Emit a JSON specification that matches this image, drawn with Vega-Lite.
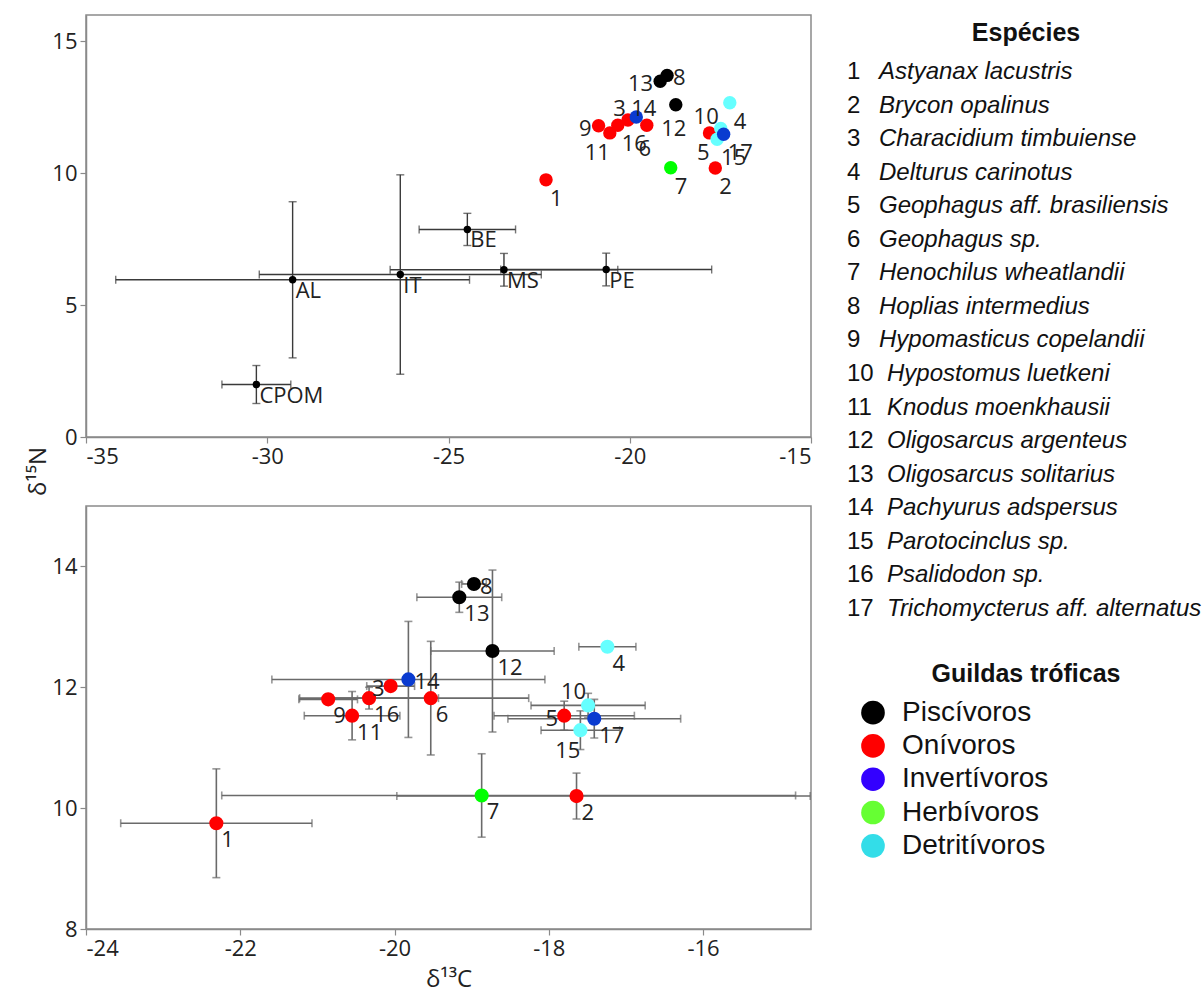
{
  "$schema": "https://vega.github.io/schema/vega-lite/v6.json",
  "background": "white",
  "padding": {"left": 25, "top": 14, "right": 0, "bottom": 0},
  "datasets": {
    "species": [
      {"id": 1, "name": "Astyanax lacustris", "guild": "Onívoros", "x": -22.31, "xlo": -23.55, "xhi": -21.07, "y": 9.75, "ysd": 0.9},
      {"id": 2, "name": "Brycon opalinus", "guild": "Onívoros", "x": -17.64, "xlo": -19.97, "xhi": -14.61, "y": 10.2, "ysd": 0.38},
      {"id": 3, "name": "Characidium timbuiense", "guild": "Onívoros", "x": -20.05, "xlo": -20.36, "xhi": -19.74, "y": 12.02, "ysd": 0.06},
      {"id": 4, "name": "Delturus carinotus", "guild": "Detritívoros", "x": -17.24, "xlo": -17.61, "xhi": -16.87, "y": 12.67, "ysd": 0.06},
      {"id": 5, "name": "Geophagus aff. brasiliensis", "guild": "Onívoros", "x": -17.8, "xlo": -18.71, "xhi": -16.89, "y": 11.53, "ysd": 0.24},
      {"id": 6, "name": "Geophagus sp.", "guild": "Onívoros", "x": -19.53, "xlo": -20.8, "xhi": -18.26, "y": 11.82, "ysd": 0.94},
      {"id": 7, "name": "Henochilus wheatlandii", "guild": "Herbívoros", "x": -18.87, "xlo": -22.24, "xhi": -14.8, "y": 10.21, "ysd": 0.69},
      {"id": 8, "name": "Hoplias intermedius", "guild": "Piscívoros", "x": -18.97, "xlo": -19.13, "xhi": -18.81, "y": 13.71, "ysd": 0.06},
      {"id": 9, "name": "Hypomasticus copelandii", "guild": "Onívoros", "x": -20.86, "xlo": -21.24, "xhi": -20.48, "y": 11.8, "ysd": 0.08},
      {"id": 10, "name": "Hypostomus luetkeni", "guild": "Detritívoros", "x": -17.49, "xlo": -18.23, "xhi": -16.75, "y": 11.7, "ysd": 0.2},
      {"id": 11, "name": "Knodus moenkhausii", "guild": "Onívoros", "x": -20.55, "xlo": -21.17, "xhi": -19.93, "y": 11.53, "ysd": 0.4},
      {"id": 12, "name": "Oligosarcus argenteus", "guild": "Piscívoros", "x": -18.73, "xlo": -19.53, "xhi": -17.93, "y": 12.6, "ysd": 1.34},
      {"id": 13, "name": "Oligosarcus solitarius", "guild": "Piscívoros", "x": -19.16, "xlo": -19.71, "xhi": -18.61, "y": 13.49, "ysd": 0.25},
      {"id": 14, "name": "Pachyurus adspersus", "guild": "Invertívoros", "x": -19.82, "xlo": -21.59, "xhi": -18.05, "y": 12.13, "ysd": 0.96},
      {"id": 15, "name": "Parotocinclus sp.", "guild": "Detritívoros", "x": -17.59, "xlo": -18.1, "xhi": -17.08, "y": 11.29, "ysd": 0.32},
      {"id": 16, "name": "Psalidodon sp.", "guild": "Onívoros", "x": -20.33, "xlo": -21.23, "xhi": -19.43, "y": 11.82, "ysd": 0.18},
      {"id": 17, "name": "Trichomycterus aff. alternatus", "guild": "Invertívoros", "x": -17.41, "xlo": -18.53, "xhi": -16.29, "y": 11.48, "ysd": 0.32}
    ],
    "sources": [
      {"src": "AL", "x": -29.3, "xsd": 4.88, "y": 5.96, "ysd": 2.96},
      {"src": "IT", "x": -26.33, "xsd": 3.89, "y": 6.16, "ysd": 3.78},
      {"src": "BE", "x": -24.48, "xsd": 1.33, "y": 7.87, "ysd": 0.61},
      {"src": "MS", "x": -23.47, "xsd": 3.14, "y": 6.34, "ysd": 0.62},
      {"src": "PE", "x": -20.65, "xsd": 2.91, "y": 6.35, "ysd": 0.62},
      {"src": "CPOM", "x": -30.3, "xsd": 0.95, "y": 1.99, "ysd": 0.72}
    ],
    "guilds": [
      {"order": 1, "guild": "Piscívoros"},
      {"order": 2, "guild": "Onívoros"},
      {"order": 3, "guild": "Invertívoros"},
      {"order": 4, "guild": "Herbívoros"},
      {"order": 5, "guild": "Detritívoros"}
    ]
  },
  "config": {
    "view": {"stroke": "#8a8a8a", "strokeWidth": 1.5},
    "axis": {
      "grid": false,
      "domainColor": "#8a8a8a",
      "domainWidth": 1.5,
      "tickColor": "#8a8a8a",
      "tickWidth": 1.2,
      "tickSize": 6,
      "labelFont": "Open Sans",
      "labelFontSize": 22,
      "labelColor": "#222222",
      "labelPadding": 3,
      "labelExpr": "toString(datum.value)",
      "titleFont": "Open Sans",
      "titleFontSize": 24,
      "titleFontWeight": "normal",
      "titleColor": "#222222"
    },
    "text": {"font": "Open Sans", "fontSize": 22, "color": "#222222"}
  },
  "resolve": {"scale": {"color": "independent", "x": "independent", "y": "independent"}},
  "spacing": 34,
  "hconcat": [
    {
      "bounds": "flush",
      "spacing": 69,
      "vconcat": [
        {
          "width": 725,
          "height": 422,
          "encoding": {
            "x": {"field": "x", "type": "quantitative", "scale": {"domain": [-35, -15], "nice": false, "zero": false},
                  "axis": {"values": [-35, -30, -25, -20, -15], "title": null}},
            "y": {"field": "y", "type": "quantitative", "scale": {"domain": [0, 16], "nice": false, "zero": false},
                  "axis": {"values": [0, 5, 10, 15], "title": "δ¹⁵N", "titleX": -48, "titleY": 456, "titleAngle": -90, "titleAlign": "center", "titleBaseline": "middle"}}
          },
          "layer": [
            {"data": {"name": "sources"}, "mark": {"type": "errorbar", "ticks": {"size": 8}, "color": "#3a3a3a", "thickness": 1.4},
             "encoding": {"xError": {"field": "xsd"}}},
            {"data": {"name": "sources"}, "mark": {"type": "errorbar", "ticks": {"size": 8}, "color": "#3a3a3a", "thickness": 1.4},
             "encoding": {"yError": {"field": "ysd"}}},
            {"data": {"name": "sources"}, "mark": {"type": "circle", "size": 55, "opacity": 1, "color": "black"}},
            {"data": {"name": "sources"}, "mark": {"type": "text", "align": "left", "baseline": "top", "dx": 3, "dy": 1},
             "encoding": {"text": {"field": "src"}}},
            {"data": {"name": "species"}, "mark": {"type": "circle", "size": 180, "opacity": 1},
             "encoding": {"color": {"field": "guild", "type": "nominal", "legend": null,
               "scale": {"domain": ["Piscívoros", "Onívoros", "Invertívoros", "Herbívoros", "Detritívoros"], "range": ["#000000", "#ff0000", "#0a3bd0", "#00ff00", "#66ffff"]}}}},
            {"data": {"name": "species"}, "transform": [{"filter": {"field": "id", "oneOf": [4, 15, 17, 7, 2, 1, 16]}}],
             "mark": {"type": "text", "align": "left", "baseline": "alphabetic", "dx": 4, "dy": 26},
             "encoding": {"text": {"field": "id"}}},
            {"data": {"name": "species"}, "transform": [{"filter": {"field": "id", "oneOf": [11, 5]}}],
             "mark": {"type": "text", "align": "right", "baseline": "alphabetic", "dx": 0, "dy": 27},
             "encoding": {"text": {"field": "id"}}},
            {"data": {"name": "species"}, "transform": [{"filter": {"field": "id", "oneOf": [12, 6]}}],
             "mark": {"type": "text", "align": "center", "baseline": "alphabetic", "dx": -2, "dy": 31},
             "encoding": {"text": {"field": "id"}}},
            {"data": {"name": "species"}, "transform": [{"filter": {"field": "id", "oneOf": [13, 9]}}],
             "mark": {"type": "text", "align": "right", "baseline": "alphabetic", "dx": -7, "dy": 10},
             "encoding": {"text": {"field": "id"}}},
            {"data": {"name": "species"}, "transform": [{"filter": {"field": "id", "oneOf": [8]}}],
             "mark": {"type": "text", "align": "left", "baseline": "alphabetic", "dx": 6, "dy": 10},
             "encoding": {"text": {"field": "id"}}},
            {"data": {"name": "species"}, "transform": [{"filter": {"field": "id", "oneOf": [3, 10]}}],
             "mark": {"type": "text", "align": "right", "baseline": "alphabetic", "dx": -2, "dy": -4},
             "encoding": {"text": {"field": "id"}}},
            {"data": {"name": "species"}, "transform": [{"filter": {"field": "id", "oneOf": [14]}}],
             "mark": {"type": "text", "align": "left", "baseline": "alphabetic", "dx": -5, "dy": -1},
             "encoding": {"text": {"field": "id"}}},
            {"data": {"values": [{"lab": "a)"}]}, "mark": {"type": "text", "align": "right", "baseline": "middle", "fontSize": 30},
             "encoding": {"x": {"datum": -15.5}, "y": {"datum": 14.8}, "text": {"field": "lab"}}}
          ]
        },
        {
          "width": 725,
          "height": 423,
          "encoding": {
            "x": {"field": "x", "type": "quantitative", "scale": {"domain": [-24, -14.6], "nice": false, "zero": false},
                  "axis": {"values": [-24, -22, -20, -18, -16], "title": "δ¹³C", "titlePadding": 8}},
            "y": {"field": "y", "type": "quantitative", "scale": {"domain": [8, 15], "nice": false, "zero": false},
                  "axis": {"values": [8, 10, 12, 14], "title": null}}
          },
          "layer": [
            {"data": {"name": "species"}, "mark": {"type": "errorbar", "ticks": {"size": 8}, "color": "#6a6a6a", "thickness": 1.6, "clip": true},
             "encoding": {"x": {"field": "xlo", "type": "quantitative"}, "x2": {"field": "xhi"}}},
            {"data": {"name": "species"}, "mark": {"type": "errorbar", "ticks": {"size": 8}, "color": "#6a6a6a", "thickness": 1.6, "clip": true},
             "encoding": {"yError": {"field": "ysd"}}},
            {"data": {"name": "species"}, "mark": {"type": "circle", "size": 200, "opacity": 1},
             "encoding": {"color": {"field": "guild", "type": "nominal", "legend": null,
               "scale": {"domain": ["Piscívoros", "Onívoros", "Invertívoros", "Herbívoros", "Detritívoros"], "range": ["#000000", "#ff0000", "#0a3bd0", "#00ff00", "#66ffff"]}}}},
            {"data": {"name": "species"}, "transform": [{"filter": {"field": "id", "oneOf": [13, 12, 16, 9, 11, 6, 4, 17, 1, 7, 2]}}],
             "mark": {"type": "text", "align": "left", "baseline": "alphabetic", "dx": 5, "dy": 24},
             "encoding": {"text": {"field": "id"}}},
            {"data": {"name": "species"}, "transform": [{"filter": {"field": "id", "oneOf": [8, 14]}}],
             "mark": {"type": "text", "align": "left", "baseline": "alphabetic", "dx": 6, "dy": 10},
             "encoding": {"text": {"field": "id"}}},
            {"data": {"name": "species"}, "transform": [{"filter": {"field": "id", "oneOf": [3, 5]}}],
             "mark": {"type": "text", "align": "right", "baseline": "alphabetic", "dx": -6, "dy": 10},
             "encoding": {"text": {"field": "id"}}},
            {"data": {"name": "species"}, "transform": [{"filter": {"field": "id", "oneOf": [10]}}],
             "mark": {"type": "text", "align": "right", "baseline": "alphabetic", "dx": -2, "dy": -6},
             "encoding": {"text": {"field": "id"}}},
            {"data": {"name": "species"}, "transform": [{"filter": {"field": "id", "oneOf": [15]}}],
             "mark": {"type": "text", "align": "right", "baseline": "alphabetic", "dx": 0, "dy": 28},
             "encoding": {"text": {"field": "id"}}},
            {"data": {"values": [{"lab": "b)"}]}, "mark": {"type": "text", "align": "right", "baseline": "middle", "fontSize": 30},
             "encoding": {"x": {"datum": -14.8}, "y": {"datum": 14.4}, "text": {"field": "lab"}}}
          ]
        }
      ]
    },
    {
      "width": 350,
      "height": 856,
      "view": {"stroke": null},
      "resolve": {"scale": {"y": "independent", "color": "independent"}},
      "layer": [
        {
          "data": {"name": "species"},
          "encoding": {
            "y": {"field": "id", "type": "quantitative", "axis": null, "scale": {"domain": [-0.698, 24.807], "reverse": true, "nice": false, "zero": false}}
          },
          "layer": [
            {"mark": {"type": "text", "align": "left", "baseline": "middle", "font": "Liberation Sans", "fontSize": 24, "color": "#111111"},
             "encoding": {"x": {"datum": 0, "type": "quantitative", "axis": null, "scale": {"domain": [0, 350], "nice": false, "zero": false}}, "text": {"field": "id"}}},
            {"transform": [{"filter": "datum.id < 10"}],
             "mark": {"type": "text", "align": "left", "baseline": "middle", "font": "Liberation Sans", "fontSize": 24, "fontStyle": "italic", "color": "#111111"},
             "encoding": {"x": {"datum": 32, "type": "quantitative"}, "text": {"field": "name"}}},
            {"transform": [{"filter": "datum.id >= 10"}],
             "mark": {"type": "text", "align": "left", "baseline": "middle", "font": "Liberation Sans", "fontSize": 24, "fontStyle": "italic", "color": "#111111"},
             "encoding": {"x": {"datum": 40, "type": "quantitative"}, "text": {"field": "name"}}},
            {"transform": [{"filter": "datum.id == 1"}],
             "mark": {"type": "text", "align": "center", "baseline": "middle", "font": "Liberation Sans", "fontSize": 25, "fontWeight": "bold", "color": "#111111"},
             "encoding": {"x": {"datum": 179, "type": "quantitative"}, "y": {"datum": -0.162, "type": "quantitative"}, "text": {"value": "Espécies"}}}
          ]
        },
        {
          "data": {"name": "guilds"},
          "encoding": {
            "y": {"field": "order", "type": "quantitative", "axis": null, "scale": {"domain": [-19.95, 5.756], "reverse": true, "nice": false, "zero": false}}
          },
          "layer": [
            {"mark": {"type": "circle", "size": 560, "opacity": 1},
             "encoding": {"x": {"datum": 26, "type": "quantitative"},
               "color": {"field": "guild", "type": "nominal", "legend": null,
                 "scale": {"domain": ["Piscívoros", "Onívoros", "Invertívoros", "Herbívoros", "Detritívoros"], "range": ["#000000", "#ff0000", "#3300ff", "#66ff33", "#33dde8"]}}}},
            {"mark": {"type": "text", "align": "left", "baseline": "middle", "font": "Liberation Sans", "fontSize": 28, "color": "#111111"},
             "encoding": {"x": {"datum": 55, "type": "quantitative"}, "text": {"field": "guild"}}},
            {"transform": [{"filter": "datum.order == 1"}],
             "mark": {"type": "text", "align": "center", "baseline": "middle", "font": "Liberation Sans", "fontSize": 25, "fontWeight": "bold", "color": "#111111"},
             "encoding": {"x": {"datum": 179, "type": "quantitative"}, "y": {"datum": -0.169, "type": "quantitative"}, "text": {"value": "Guildas tróficas"}}}
          ]
        }
      ]
    }
  ]
}
